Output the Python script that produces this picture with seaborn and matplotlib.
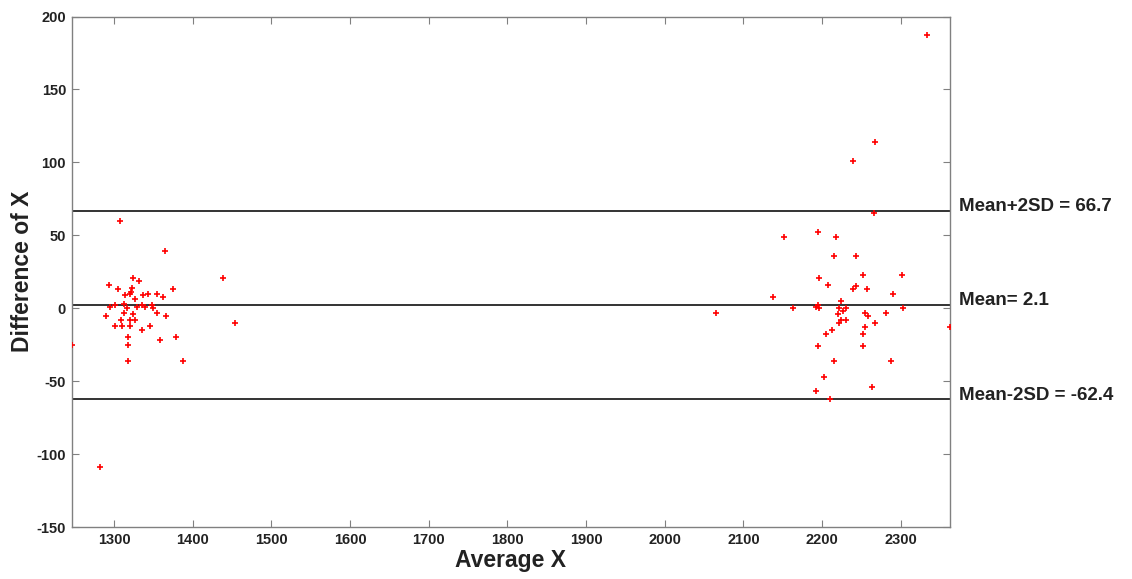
import numpy as np
import pandas as pd
import matplotlib
matplotlib.use("Agg")
import matplotlib.pyplot as plt
import seaborn as sns

# ---- data ----
avg_left = [1307, 1365, 1439, 1454, 1246, 1282, 1317, 1387, 1379, 1358,
            1335, 1318, 1317, 1301, 1310, 1320, 1345, 1290, 1366, 1309,
            1320, 1326, 1312, 1324, 1354, 1295, 1301, 1312, 1316, 1329,
            1335, 1339, 1348, 1350, 1293, 1305, 1324, 1331, 1320, 1322,
            1314, 1337, 1343, 1354, 1362, 1375, 1323, 1327]
diff_left = [60, 39, 21, -10, -25, -109, -36, -36, -20, -22,
             -15, -20, -25, -12, -12, -12, -12, -5, -5, -8,
             -8, -8, -3, -4, -3, 1, 2, 3, 0, 1,
             2, 1, 2, 0, 16, 13, 21, 19, 10, 11,
             9, 9, 10, 10, 8, 13, 14, 6]

avg_right = [2267, 2239, 2266, 2152, 2195, 2218, 2215, 2243, 2252, 2302,
             2196, 2207, 2239, 2243, 2257, 2290, 2138, 2163, 2192, 2195,
             2196, 2224, 2222, 2227, 2231, 2220, 2224, 2231, 2222, 2254,
             2258, 2281, 2303, 2267, 2254, 2252, 2212, 2205, 2195, 2252,
             2215, 2287, 2202, 2192, 2263, 2210, 2362, 2334, 2065]
diff_right = [114, 101, 65, 49, 52, 49, 36, 36, 23, 23,
              21, 16, 13, 15, 13, 10, 8, 0, 1, 2,
              0, 5, 0, -2, 0, -4, -8, -8, -10, -3,
              -5, -3, 0, -10, -13, -18, -15, -18, -26, -26,
              -36, -36, -47, -57, -54, -62, -13, 187, -3]

mean_diff = 2.1
upper_loa = 66.7
lower_loa = -62.4
line_labels = ["Mean+2SD = 66.7", "Mean= 2.1", "Mean-2SD = -62.4"]

x_ticks = [1300, 1400, 1500, 1600, 1700, 1800, 1900, 2000, 2100, 2200, 2300]
y_ticks = [-150, -100, -50, 0, 50, 100, 150, 200]

df = pd.DataFrame({"Average X": avg_left + avg_right,
                   "Difference of X": diff_left + diff_right})

# ---- style ----
sns.set_style("ticks")
plt.rcParams["font.family"] = ["Liberation Sans", "DejaVu Sans"]
plt.rcParams["axes.unicode_minus"] = False

fig = plt.figure(figsize=(11.32, 5.79), dpi=100)
ax = fig.add_axes([0.0633, 0.0898, 0.7755, 0.8817])

sns.scatterplot(data=df, x="Average X", y="Difference of X", ax=ax,
                marker="+", color="red", s=24, linewidth=1.2, zorder=3)

for val, lab in zip([upper_loa, mean_diff, lower_loa], line_labels):
    ax.axhline(val, color="#333333", linewidth=1.4, zorder=2)
    ax.annotate(lab, xy=(1.0, val), xycoords=("axes fraction", "data"),
                xytext=(7, 3), textcoords="offset points",
                ha="left", va="center", fontsize=13.5, fontweight="bold",
                color="#222222", annotation_clip=False)

ax.set_xlim(min(df["Average X"]), max(df["Average X"]))
ax.set_ylim(-150, 200)
ax.set_xticks(x_ticks)
ax.set_yticks(y_ticks)
ax.tick_params(direction="in", length=5, width=0.8, color="#808080",
               top=True, right=True, labelsize=10.5, pad=4)
for lbl in ax.get_xticklabels() + ax.get_yticklabels():
    lbl.set_fontweight("bold")
    lbl.set_color("#222222")
for sp in ax.spines.values():
    sp.set_visible(True)
    sp.set_color("#808080")
    sp.set_linewidth(1.0)

ax.set_xlabel("Average X", fontsize=16.5, fontweight="bold", color="#222222", labelpad=2)
ax.set_ylabel("Difference of X", fontsize=16.5, fontweight="bold", color="#222222", labelpad=2)

fig.savefig("out.png", dpi=100, facecolor="white")
